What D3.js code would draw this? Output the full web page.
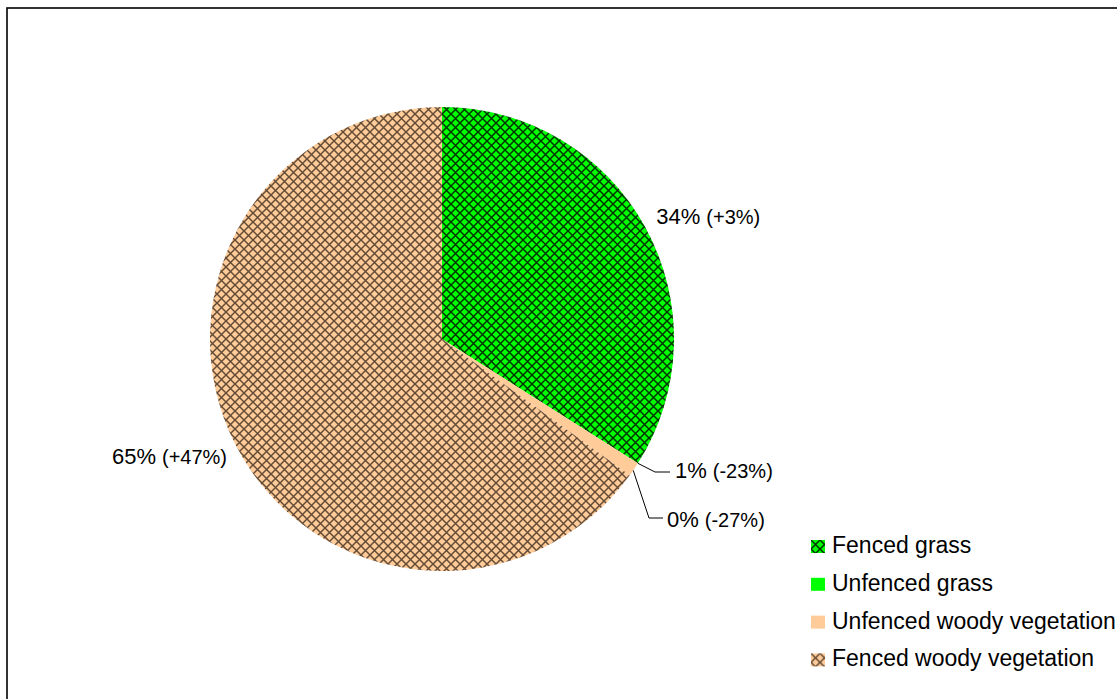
<!DOCTYPE html>
<html>
<head>
<meta charset="utf-8">
<script src="https://cdn.jsdelivr.net/npm/d3@7/dist/d3.min.js"></script>
<style>
  html, body { margin: 0; padding: 0; background: #fff; }
  svg { display: block; font-family: "Liberation Sans", Arial, sans-serif; }
</style>
</head>
<body>
<svg id="chart" width="1117" height="699"></svg>
<script>
// Land cover shares (%) and change since baseline (percentage points)
const categories = ["Fenced grass", "Unfenced grass", "Unfenced woody vegetation", "Fenced woody vegetation"];
const shares = [34, 0, 1, 65];
const changes = ["+3%", "-27%", "-23%", "+47%"];
const fills = ["#00ff00", "#00ff00", "#ffcc99", "#ffcc99"];
const hatched = [true, false, false, true];

const svg = d3.select("#chart");
const W = 1117, H = 699;

// outer frame (runs off the right and bottom edges)
svg.append("rect")
  .attr("x", 7).attr("y", 8)
  .attr("width", W + 20).attr("height", H + 20)
  .attr("fill", "none").attr("stroke", "#000").attr("stroke-width", 1.6);

// crosshatch patterns
const defs = svg.append("defs");
function hatch(id, bg, line) {
  const s = 9;
  const p = defs.append("pattern")
    .attr("id", id).attr("patternUnits", "userSpaceOnUse")
    .attr("width", s).attr("height", s);
  p.append("rect").attr("width", s).attr("height", s).attr("fill", bg);
  p.append("path")
    .attr("d", `M-1,-1L${s + 1},${s + 1}M${s + 1},-1L-1,${s + 1}`)
    .attr("stroke", line).attr("stroke-width", 1.5).attr("fill", "none");
}
hatch("hatch-green", "#00ff00", "rgba(0,0,0,0.8)");
hatch("hatch-peach", "#ffcc99", "rgba(40,25,15,0.72)");

function fillFor(i) {
  if (!hatched[i]) return fills[i];
  return fills[i] === "#00ff00" ? "url(#hatch-green)" : "url(#hatch-peach)";
}

const cx = 442, cy = 339, r = 232;
const g = svg.append("g").attr("transform", `translate(${cx},${cy})`);

const pie = d3.pie().sort(null).value(d => d).startAngle(0).endAngle(2 * Math.PI);
const arcs = pie(shares);
const arc = d3.arc().innerRadius(0).outerRadius(r);

g.selectAll("path.slice")
  .data(arcs)
  .join("path")
  .attr("class", "slice")
  .attr("d", arc)
  .attr("fill", (d, i) => fillFor(i));

// point on the circle at angle a (clockwise from 12 o'clock)
const onCircle = (a, rr) => [Math.sin(a) * rr, -Math.cos(a) * rr];

// data labels
function label(x, y, i, anchor) {
  const t = g.append("text")
    .attr("x", x).attr("y", y)
    .attr("text-anchor", anchor || "start")
    .attr("fill", "#000");
  t.append("tspan").attr("font-size", 22).text(Math.round(shares[i]) + "%");
  t.append("tspan").attr("font-size", 20).attr("dx", 6).text("(" + changes[i] + ")");
}

// large slices: labels just outside the mid-angle
{
  const a0 = (arcs[0].startAngle + arcs[0].endAngle) / 2;
  const [x0, y0] = onCircle(a0, 248);
  label(x0 - 3, y0 + 4, 0, "start");
  const a3 = (arcs[3].startAngle + arcs[3].endAngle) / 2;
  const [x3, y3] = onCircle(a3, 248);
  label(x3 + 6, y3 + 12, 3, "end");
}

// small slices: labels with leader lines
function leader(a, elbow, endX, i, textX, textY) {
  const [sx, sy] = onCircle(a, r);
  g.append("path")
    .attr("d", `M${sx},${sy}L${elbow[0]},${elbow[1]}L${endX},${elbow[1]}`)
    .attr("fill", "none").attr("stroke", "#000").attr("stroke-width", 1);
  label(textX, textY, i, "start");
}
// Unfenced woody vegetation (1%) — leader from the slice's leading edge
leader(arcs[2].startAngle, [213, 133], 228, 2, 233, 139);
// Unfenced grass (0%) — leader from within the thin wedge
leader((arcs[2].startAngle + arcs[2].endAngle) / 2 + 0.005, [207, 179], 221, 1, 225, 188);

// legend
const lg = svg.append("g").attr("transform", "translate(811,540)");
const rowH = 37.8;
categories.forEach((c, i) => {
  const row = lg.append("g").attr("transform", `translate(0,${i * rowH})`);
  row.append("rect").attr("width", 14).attr("height", 13).attr("fill", fillFor(i));
  row.append("text").attr("x", 21).attr("y", 13).attr("font-size", 23)
    .attr("fill", "#000").text(c);
});
</script>
</body>
</html>
